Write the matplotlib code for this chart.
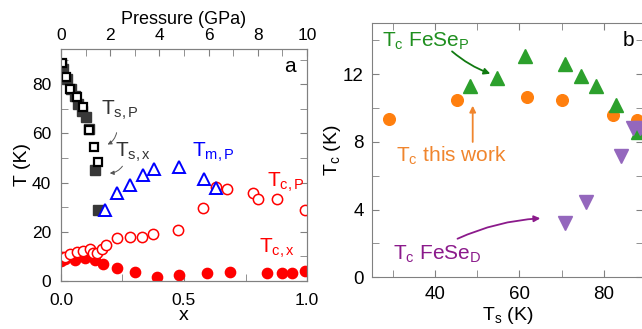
import matplotlib
matplotlib.use("Agg")
import matplotlib.pyplot as plt
from matplotlib.ticker import MultipleLocator

plt.rcParams['font.family'] = ['Liberation Sans', 'DejaVu Sans']
plt.rcParams['mathtext.fontset'] = 'custom'
plt.rcParams['mathtext.rm'] = 'Liberation Sans'
plt.rcParams['mathtext.it'] = 'Liberation Sans'

# ---- panel a data ----
tsx_x = [0.0, 0.01, 0.025, 0.04, 0.055, 0.07, 0.085, 0.1, 0.112, 0.138, 0.15]
tsx_T = [88, 86, 82, 78, 75, 72, 69, 66.5, 61.7, 45.1, 28.9]
tsp_P = [0.05, 0.2, 0.37, 0.64, 0.91, 1.14, 1.36, 1.49]
tsp_T = [88.7, 82.8, 77.9, 74.7, 70.6, 61.4, 54.6, 48.4]
tmp_P = [1.79, 2.27, 2.81, 3.32, 3.78, 4.81, 5.82, 6.31]
tmp_T = [28.9, 35.6, 39.0, 43.1, 45.4, 46.2, 41.3, 37.7]
tcp_P = [0.05, 0.16, 0.37, 0.64, 0.91, 1.18, 1.31, 1.45, 1.66, 1.82, 2.27, 2.81,
         3.28, 3.76, 4.77, 5.79, 6.3, 6.74, 7.8, 7.99, 8.78, 9.93]
tcp_T = [9.6, 9.9, 10.9, 11.7, 12.3, 12.9, 11.5, 11.3, 12.9, 14.6, 17.4, 18.0,
         18.0, 19.1, 20.7, 29.5, 38.3, 37.3, 35.9, 33.2, 33.5, 28.9]
tcx_x = [0.0, 0.016, 0.057, 0.098, 0.138, 0.172, 0.227, 0.301, 0.389, 0.48,
         0.593, 0.685, 0.837, 0.898, 0.939, 0.993]
tcx_T = [8.0, 8.8, 8.5, 9.2, 8.5, 7.0, 5.2, 3.5, 1.7, 2.4, 3.1, 3.5, 3.1, 3.4, 3.4, 4.2]

# ---- panel b data ----
this_Ts = [29.0, 45.1, 61.7, 70.1, 82.1, 87.8]
this_Tc = [9.35, 10.49, 10.63, 10.45, 9.60, 9.31]
fesep_Ts = [48.2, 54.6, 61.3, 70.8, 74.5, 78.1, 82.9, 88.2]
fesep_Tc = [11.32, 11.78, 13.05, 12.62, 11.87, 11.32, 10.2, 8.6]
fesed_Ts = [70.8, 75.8, 84.2, 87.0, 88.6]
fesed_Tc = [3.19, 4.47, 7.14, 8.8, 8.8]

fig = plt.figure(figsize=(6.42, 3.29), dpi=100)
gray = '#808080'

ax = fig.add_axes([0.0950, 0.1459, 0.3832, 0.7052])
ax.plot(tsx_x, tsx_T, 's', ms=6.5, mfc='#383838', mec='#383838', zorder=2)
ax.plot([p / 10 for p in tsp_P], tsp_T, 's', ms=6, mfc='white', mec='black', mew=1.6, zorder=3)
ax.plot(tcx_x, tcx_T, 'o', ms=7.4, color='red', zorder=2)
ax.plot([p / 10 for p in tcp_P], tcp_T, 'o', ms=7.4, mfc='white', mec='red', mew=1.1, zorder=3)
ax.plot([p / 10 for p in tmp_P], tmp_T, '^', ms=9, mfc='white', mec='blue', mew=1.4, zorder=4)
ax.set_xlim(0, 1.0)
ax.set_ylim(0, 94.3)
ax.xaxis.set_major_locator(MultipleLocator(0.5))
ax.xaxis.set_minor_locator(MultipleLocator(0.25))
ax.yaxis.set_major_locator(MultipleLocator(20))
ax.yaxis.set_minor_locator(MultipleLocator(10))
ax.xaxis.set_major_formatter(matplotlib.ticker.FormatStrFormatter('%.1f'))
ax.tick_params(which='both', direction='in', right=True, color=gray, labelsize=12.5, length=5)
ax.tick_params(axis='x', pad=9)
ax.tick_params(axis='y', pad=7)
for s in ax.spines.values():
    s.set_color(gray)
ax.set_xlabel('x', fontsize=14, labelpad=-1)
ax.set_ylabel('T (K)', fontsize=14, labelpad=1)

top = ax.twiny()
top.set_xlim(0, 10)
top.xaxis.set_major_locator(MultipleLocator(2))
top.xaxis.set_minor_locator(MultipleLocator(1))
top.tick_params(which='both', direction='in', color=gray, labelsize=12.5, length=5, pad=4.5)
top.set_xlabel('Pressure (GPa)', fontsize=13, labelpad=3)
for s in top.spines.values():
    s.set_color(gray)

ax.text(0.163, 67.5, r'$\mathrm{T_{s,P}}$', fontsize=15, color='#333333')
ax.text(0.22, 50.5, r'$\mathrm{T_{s,x}}$', fontsize=15, color='#333333')
ax.text(0.532, 50.5, r'$\mathrm{T_{m,P}}$', fontsize=15, color='blue')
ax.text(0.837, 38.3, r'$\mathrm{T_{c,P}}$', fontsize=15, color='red')
ax.text(0.803, 11.3, r'$\mathrm{T_{c,x}}$', fontsize=15, color='red')
ax.text(0.905, 85.1, 'a', fontsize=15)
ax.annotate('', xy=(0.179, 55.0), xytext=(0.228, 61.4),
            arrowprops=dict(arrowstyle='-|>', color='#555555', lw=0.7, mutation_scale=6,
                            connectionstyle='arc3,rad=-0.3'))
ax.annotate('', xy=(0.187, 43.8), xytext=(0.256, 47.6),
            arrowprops=dict(arrowstyle='-|>', color='#555555', lw=0.7, mutation_scale=6,
                            connectionstyle='arc3,rad=-0.3'))

# ---- panel b ----
bx = fig.add_axes([0.5794, 0.1571, 0.4221, 0.7720])
bx.plot(this_Ts, this_Tc, 'o', ms=8.4, color='#ff7f0e', zorder=2)
bx.plot(fesep_Ts, fesep_Tc, '^', ms=10, color='#2ca02c', zorder=3)
bx.plot(fesed_Ts, fesed_Tc, 'v', ms=9.5, color='#9467bd', zorder=4)
bx.set_xlim(25, 89.3)
bx.set_ylim(0, 15)
bx.xaxis.set_major_locator(MultipleLocator(20))
bx.xaxis.set_minor_locator(MultipleLocator(10))
bx.yaxis.set_major_locator(MultipleLocator(4))
bx.yaxis.set_minor_locator(MultipleLocator(2))
bx.tick_params(which='both', direction='in', top=True, right=True, color=gray,
               labelsize=13.5, length=5)
bx.tick_params(axis='x', pad=6)
bx.tick_params(axis='y', pad=6)
for s in bx.spines.values():
    s.set_color(gray)
bx.set_xlabel(r'$\mathrm{T_s}$ (K)', fontsize=14, labelpad=2)
bx.set_ylabel(r'$\mathrm{T_c}$ (K)', fontsize=14, labelpad=0)

bx.text(27.3, 13.64, r'$\mathrm{T_c\ FeSe_P}$', fontsize=15, color='#1f8f1f')
bx.text(30.8, 6.84, r'$\mathrm{T_c\ this\ work}$', fontsize=15, color='#f0852d')
bx.text(30.0, 1.02, r'$\mathrm{T_c\ FeSe_D}$', fontsize=15, color='#8b1a8b')
bx.text(84.6, 13.64, 'b', fontsize=15)
bx.annotate('', xy=(53.7, 11.97), xytext=(43.5, 13.45),
            arrowprops=dict(arrowstyle='-|>', color='#117a11', lw=1.3, mutation_scale=9,
                            connectionstyle='arc3,rad=0.1'))
bx.annotate('', xy=(48.9, 10.3), xytext=(48.9, 7.83),
            arrowprops=dict(arrowstyle='-|>', color='#f0852d', lw=1.3, mutation_scale=9))
bx.annotate('', xy=(65.6, 3.49), xytext=(44.7, 2.21),
            arrowprops=dict(arrowstyle='-|>', color='#8b1a8b', lw=1.3, mutation_scale=9,
                            connectionstyle='arc3,rad=-0.1'))

fig.savefig('out.png', dpi=100)
